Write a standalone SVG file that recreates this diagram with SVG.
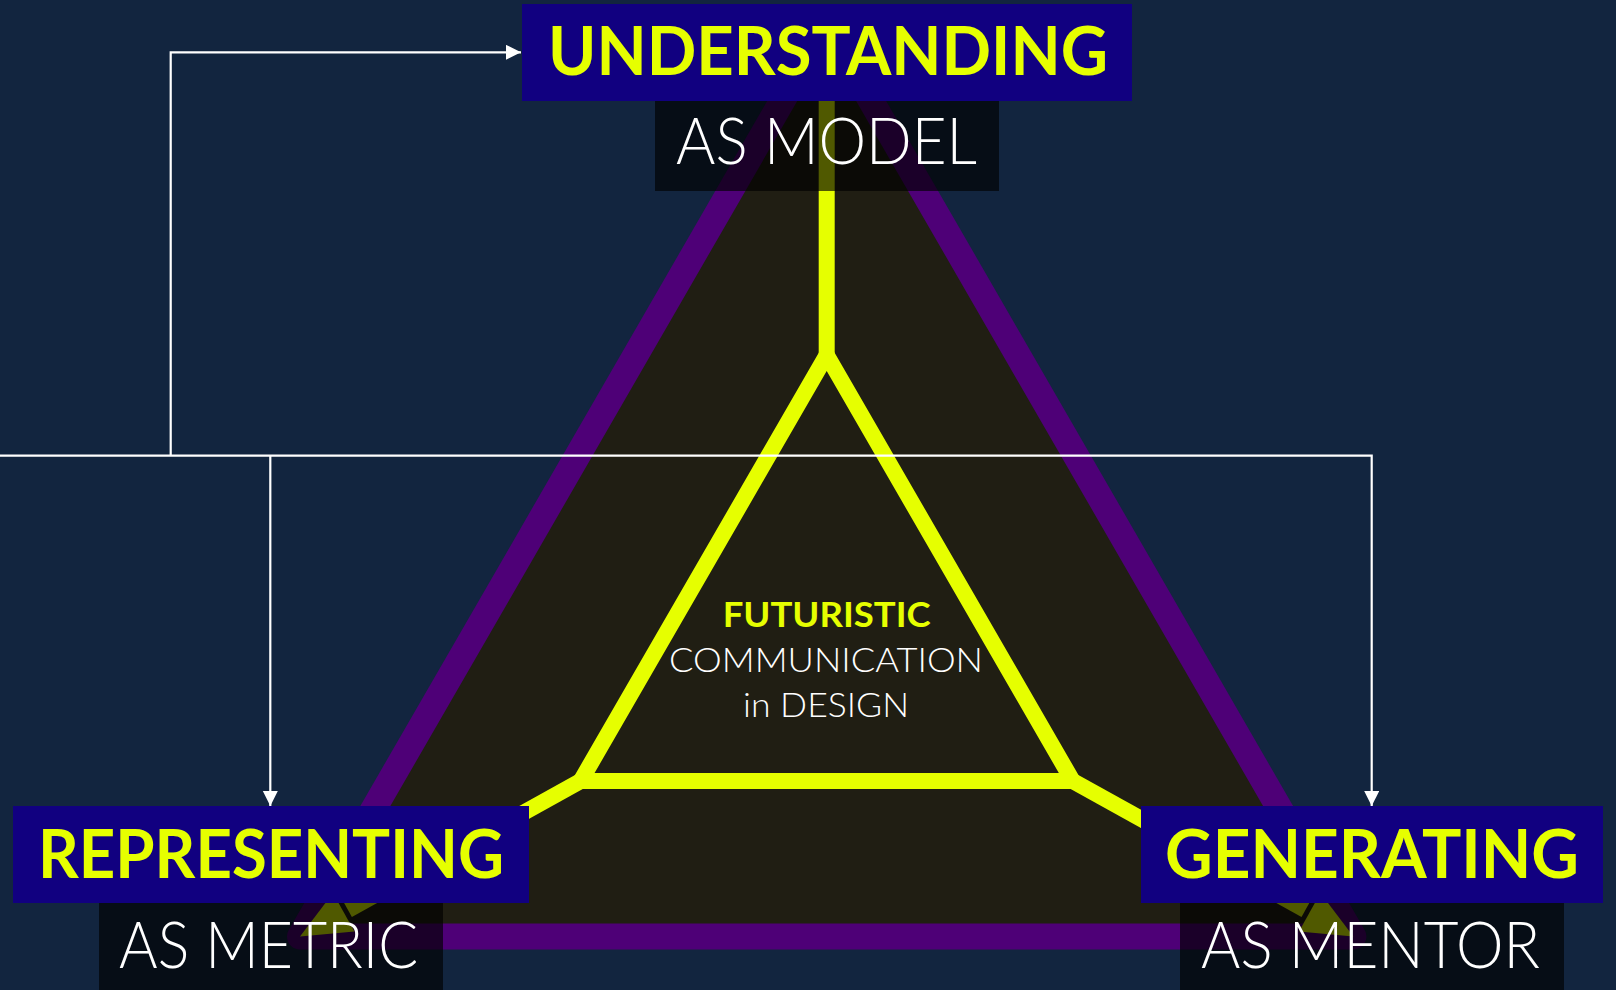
<svg xmlns="http://www.w3.org/2000/svg" width="1616" height="990" viewBox="0 0 1616 990">
<style>
.head{fill:#110080}
.sub{fill:#000000;fill-opacity:0.65}
.tb{font-family:Lato,"Open Sans","Liberation Sans",sans-serif;font-weight:700;fill:#e6ff00;text-anchor:middle}
.tl{font-family:Lato,"Open Sans","Liberation Sans",sans-serif;font-weight:300;fill:#ffffff;text-anchor:middle}
.yl{fill:none;stroke:#e6ff00;stroke-width:16}
.wl{fill:none;stroke:#ffffff;stroke-width:2.2}
</style>
<defs>
<marker id="arr" markerUnits="userSpaceOnUse" markerWidth="16" markerHeight="16" refX="15" refY="7.5" orient="auto">
<path d="M0,0 L15,7.5 L0,15 Z" fill="#ffffff"/>
</marker>
</defs>
<rect width="1616" height="990" fill="#12253f"/>
<g id="triangle">
<polygon points="826.7,24 1353.4,936.5 300,936.5" fill="#201e13" stroke="#4e0077" stroke-width="26" stroke-linejoin="round"/>
<path class="yl" d="M826.7,90 V355"/>
<polygon class="yl" points="826.7,355 1072.7,781 580.7,781"/>
<path class="yl" d="M580.7,781 L348,910"/>
<path class="yl" d="M1072.7,781 L1305.4,910"/>
<polygon points="300,936.5 354.4,931.5 333,893.1" fill="#e6ff00"/>
<polygon points="1353.4,936.5 1299,931.5 1320.4,893.1" fill="#e6ff00"/>
</g>
<g id="connectors">
<path class="wl" d="M0,455.7 H1371.7 V806" marker-end="url(#arr)"/>
<path class="wl" d="M170.7,455.7 V52.3 H521" marker-end="url(#arr)"/>
<path class="wl" d="M270.3,455.7 V806" marker-end="url(#arr)"/>
</g>
<g id="node-understanding">
<rect class="head" x="522" y="4" width="610" height="97"/>
<text class="tb" x="828" y="75" font-size="66" textLength="560" lengthAdjust="spacingAndGlyphs">UNDERSTANDING</text>
<rect class="sub" x="655" y="101" width="344" height="90"/>
<text class="tl" x="826.5" y="164" font-size="66" textLength="301" lengthAdjust="spacingAndGlyphs">AS MODEL</text>
</g>
<g id="node-representing">
<rect class="head" x="13" y="806" width="516" height="97"/>
<text class="tb" x="271" y="878" font-size="66" textLength="466" lengthAdjust="spacingAndGlyphs">REPRESENTING</text>
<rect class="sub" x="99" y="903" width="344" height="87"/>
<text class="tl" x="268.5" y="968" font-size="66" textLength="299" lengthAdjust="spacingAndGlyphs">AS METRIC</text>
</g>
<g id="node-generating">
<rect class="head" x="1141" y="806" width="462" height="97"/>
<text class="tb" x="1372" y="878" font-size="66" textLength="414" lengthAdjust="spacingAndGlyphs">GENERATING</text>
<rect class="sub" x="1180" y="903" width="384" height="87"/>
<text class="tl" x="1370.5" y="968" font-size="66" textLength="339" lengthAdjust="spacingAndGlyphs">AS MENTOR</text>
</g>
<g id="node-center">
<text class="tb" x="826.7" y="627" font-size="34" textLength="208" lengthAdjust="spacingAndGlyphs">FUTURISTIC</text>
<text class="tl" x="826" y="672" font-size="34" textLength="314" lengthAdjust="spacingAndGlyphs">COMMUNICATION</text>
<text class="tl" x="826" y="717" font-size="34" textLength="166" lengthAdjust="spacingAndGlyphs">in DESIGN</text>
</g>
</svg>
